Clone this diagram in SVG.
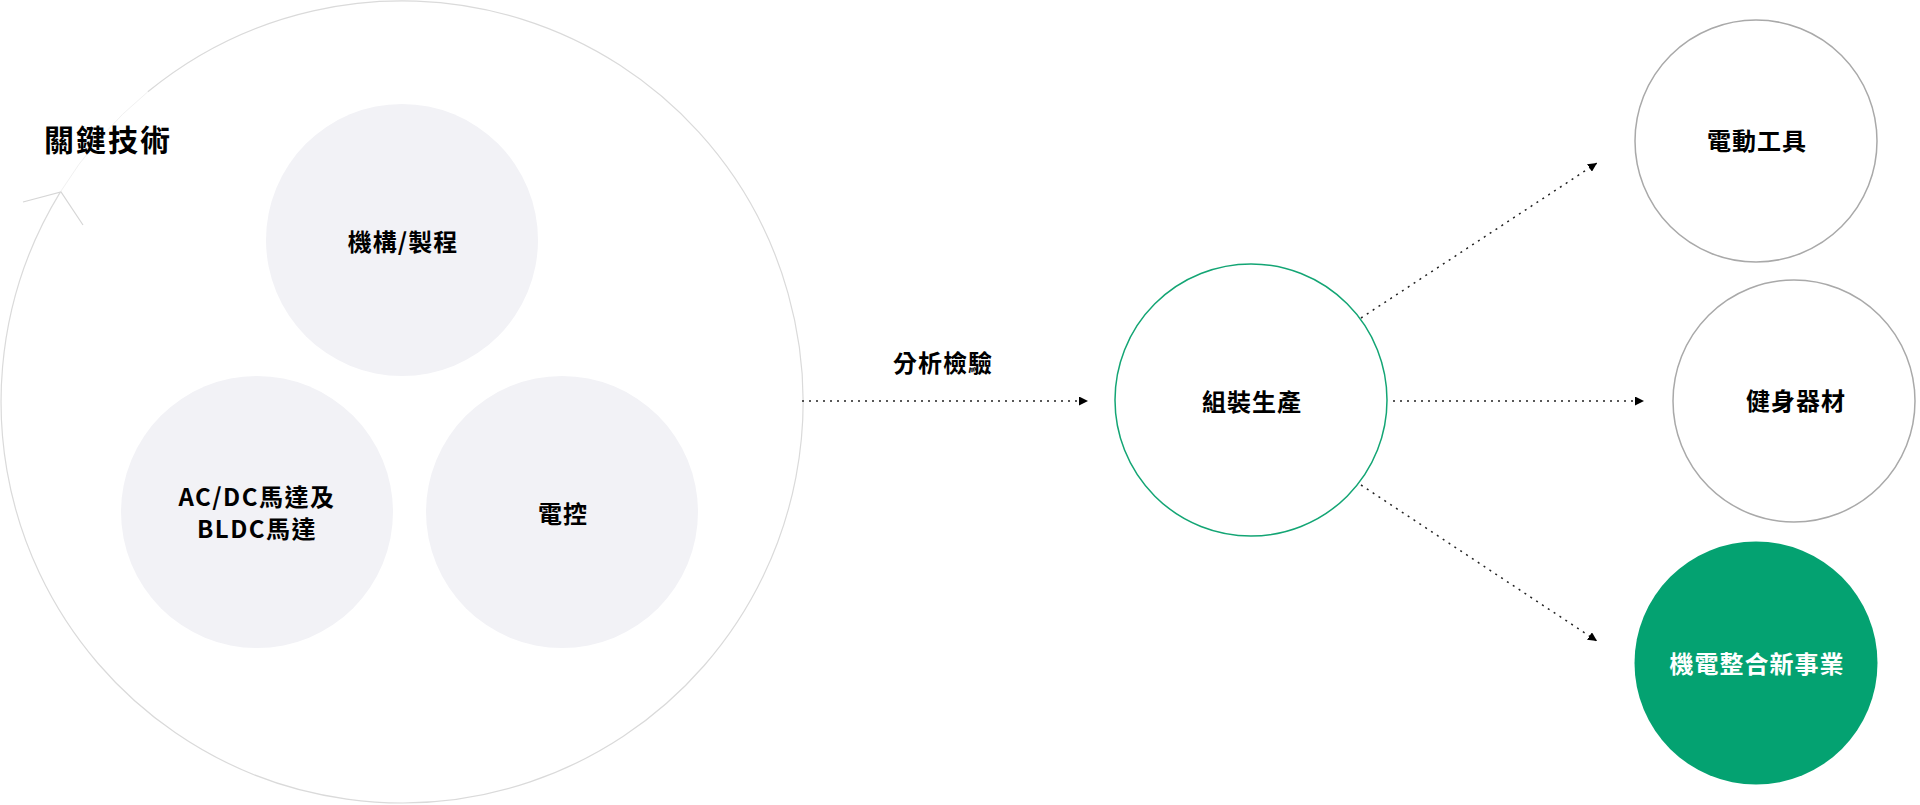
<svg xmlns="http://www.w3.org/2000/svg" width="1920" height="805" viewBox="0 0 1920 805">
<defs>
<style>
.t{font-family:"Noto Sans CJK TC","Noto Sans",sans-serif;font-weight:700;fill:#000;text-anchor:middle;font-size:24px;letter-spacing:1px}
.inner{fill:#f2f2f6}
.gray{fill:#fff;stroke:#a9a9a9;stroke-width:1.5}
.conn{stroke:#222;stroke-width:1.5;stroke-dasharray:2 5;fill:none;marker-end:url(#ah)}
</style>
<marker id="ah" viewBox="0 0 10 10" refX="10" refY="5" markerWidth="9" markerHeight="9" markerUnits="userSpaceOnUse" orient="auto">
<path d="M0,0 L10,5 L0,10 z" fill="#000"/>
</marker>
</defs>
<rect width="1920" height="805" fill="#fff"/>

<g id="key-tech">
<path d="M147.8,91.8 A401,401 0 1 1 60.3,192.1" fill="none" stroke="#dadada" stroke-width="1.2"/>
<path d="M60.3,192.1 A401,401 0 0 1 147.8,91.8" fill="none" stroke="#f1f1f1" stroke-width="1"/>
<path d="M23,202 L61,192 L83,225" fill="none" stroke="#d6d6d6" stroke-width="1.2"/>
<text class="t" x="44" y="151" style="text-anchor:start;font-size:30px;letter-spacing:2px">關鍵技術</text>
</g>

<g id="mech">
<circle class="inner" cx="402" cy="240" r="136"/>
<text class="t" x="403" y="251">機構/製程</text>
</g>
<g id="motor">
<circle class="inner" cx="257" cy="512" r="136"/>
<text class="t" x="257" y="506" style="letter-spacing:1.5px">AC/DC馬達及</text>
<text class="t" x="257" y="538" style="letter-spacing:1.5px">BLDC馬達</text>
</g>
<g id="control">
<circle class="inner" cx="562" cy="512" r="136"/>
<text class="t" x="563" y="523">電控</text>
</g>

<g id="assembly">
<circle cx="1251" cy="400" r="136" fill="#fff" stroke="#13a574" stroke-width="1.5"/>
<text class="t" x="1252" y="411">組裝生產</text>
</g>

<g id="power-tools">
<circle class="gray" cx="1756" cy="141" r="121"/>
<text class="t" x="1757" y="150">電動工具</text>
</g>
<g id="fitness">
<circle class="gray" cx="1794" cy="401" r="121"/>
<text class="t" x="1796" y="410">健身器材</text>
</g>
<g id="new-business">
<circle cx="1756" cy="663" r="121.5" fill="#04a271"/>
<text class="t" x="1757" y="673" style="fill:#fff">機電整合新事業</text>
</g>

<g id="connectors">
<line class="conn" x1="802" y1="401" x2="1088" y2="401"/>
<text class="t" x="943" y="372">分析檢驗</text>
<line class="conn" x1="1361" y1="318" x2="1597" y2="163"/>
<line class="conn" x1="1393" y1="401" x2="1644" y2="401"/>
<line class="conn" x1="1361" y1="485" x2="1597" y2="641"/>
</g>
</svg>
